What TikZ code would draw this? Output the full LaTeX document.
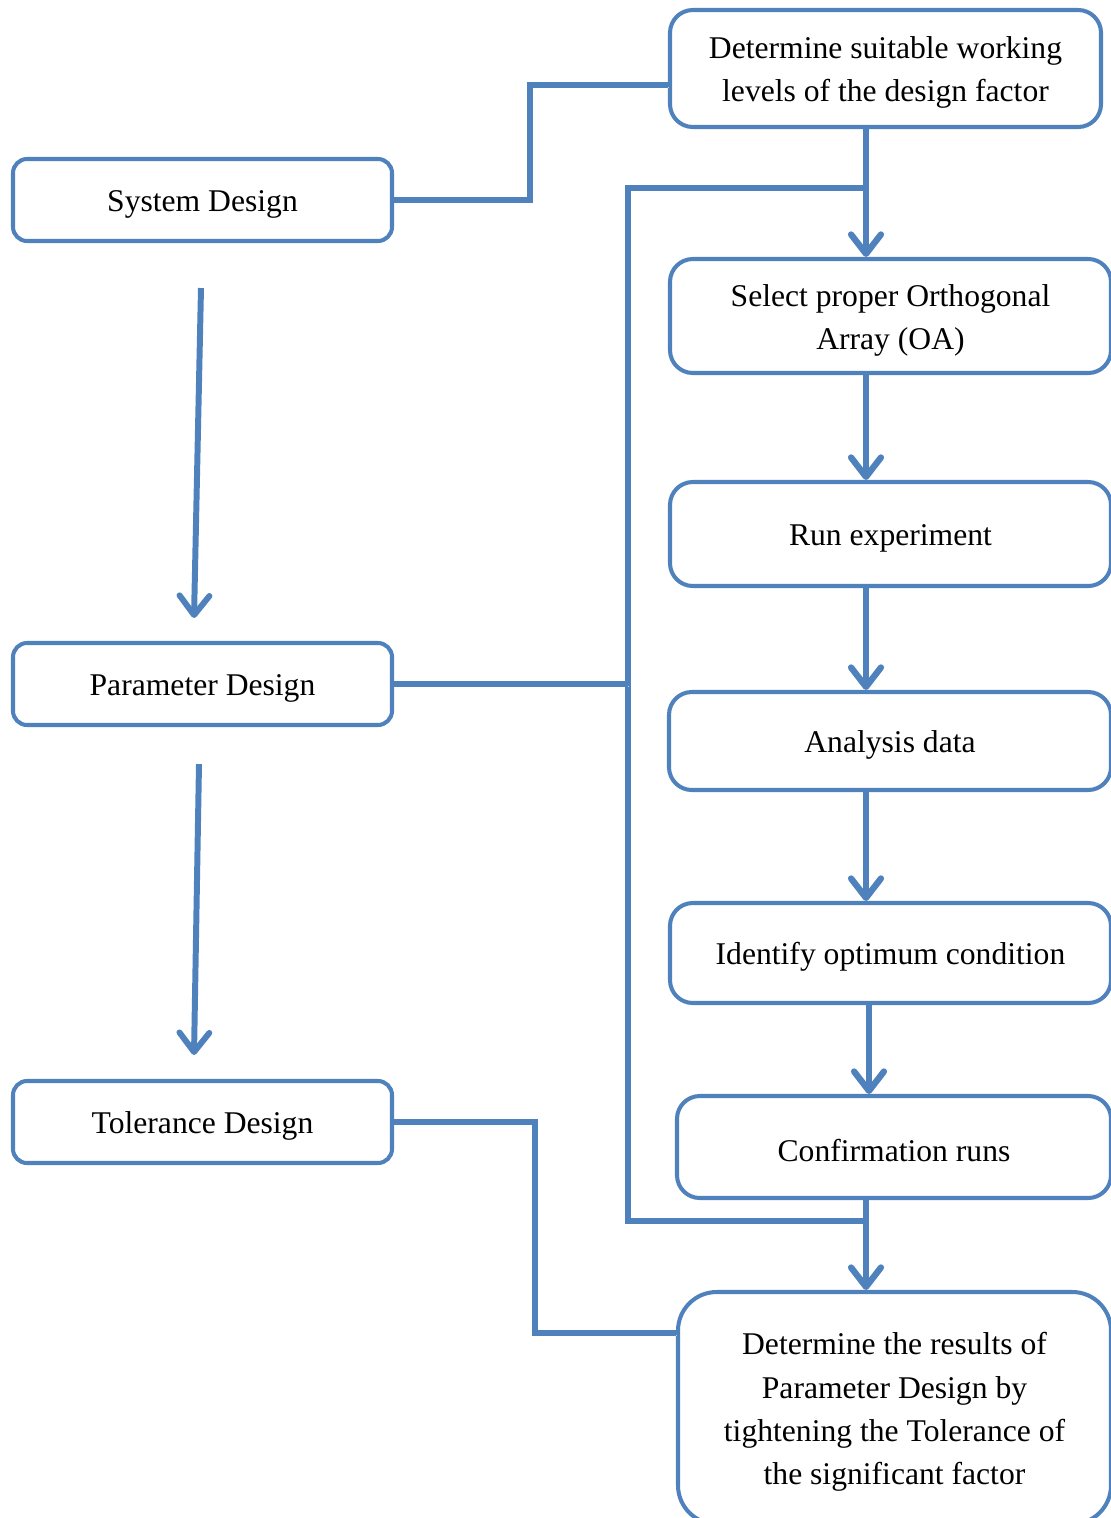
\documentclass[tikz,border=0pt]{standalone}
\usepackage{fontspec}
\setmainfont{Liberation Serif}
\usetikzlibrary{positioning}
\usetikzlibrary{calc}
\usetikzlibrary{arrows.meta}
\definecolor{officeblue}{RGB}{79, 129, 189}
\newcommand{\liftline}{\rule{0pt}{17pt}}

\begin{document}
\begin{tikzpicture}[
    x=0.02cm, y=-0.02cm,
    % node styles
    box/.style = {
      draw=officeblue,
      line width=2.3pt,
      fill=white,
      rounded corners=8pt,
      align=center,
      inner sep=0pt,
      font=\fontsize{18}{24.5}\selectfont,
      text=black
    },
    sidebox/.style = {box, minimum width=379*0.02cm, minimum height=82*0.02cm},
    % arrow styles
    shade/.style = {preaction={draw=black!18, transform canvas={xshift=0.6pt, yshift=-1.2pt}}},
    link/.style = {line width=3.6pt, draw=officeblue, shade},
    arr/.style = {-{Straight Barb[length=11pt, width=17pt, round]}, line width=3.6pt, draw=officeblue},
    sidearr/.style = {-{Straight Barb[length=11pt, width=17pt, round]}, line width=3.4pt, draw=officeblue}
  ]

  \clip (0,0) rectangle (1111,1518);

  % --- Nodes
  \node[sidebox] (sys) at (202.5,200) {\liftline System Design};
  \node[sidebox] (par) at (202.5,684) {\liftline Parameter Design};
  \node[sidebox] (tol) at (202.5,1122) {\liftline Tolerance Design};

  \node[box, rounded corners=13pt, minimum width=431*0.02cm, minimum height=117*0.02cm] (det) at (885.5,68.5)
    {\liftline Determine suitable working\\levels of the design factor};
  \node[box, rounded corners=13pt, minimum width=441*0.02cm, minimum height=114*0.02cm] (sel) at (890.5,316)
    {\liftline Select proper Orthogonal\\Array (OA)};
  \node[box, rounded corners=13pt, minimum width=441*0.02cm, minimum height=104*0.02cm] (run) at (890.5,534)
    {\liftline Run experiment};
  \node[box, rounded corners=13pt, minimum width=442*0.02cm, minimum height=98*0.02cm] (ana) at (890,741)
    {\liftline Analysis data};
  \node[box, rounded corners=13pt, minimum width=441*0.02cm, minimum height=100*0.02cm] (opt) at (890.5,953)
    {\liftline Identify optimum condition};
  \node[box, rounded corners=13pt, minimum width=434*0.02cm, minimum height=102*0.02cm] (conf) at (894,1147)
    {\liftline Confirmation runs};
  \node[box, rounded corners=22pt, minimum width=433*0.02cm, minimum height=232*0.02cm] (res) at (894.5,1408)
    {\liftline Determine the results of\\Parameter Design by\\tightening the Tolerance of\\the significant factor};

  % --- helper points
  \coordinate (trunk) at (866,0);
  \coordinate (loopx) at (628,0);
  \coordinate (looptop) at (866,188);
  \coordinate (loopbot) at (866,1221);
  \coordinate (k1) at (530,85);
  \coordinate (k2) at (535,1333);

  % --- Arrows
  \draw[link] (sys.east) -| (k1) -- (k1 -| det.west);
  \draw[link] (looptop) -- (looptop -| loopx) -- (loopbot -| loopx) -- (loopbot);
  \draw[link] (par.east) -- (par.east -| loopx);
  \draw[link] (tol.east) -| (k2) -- (k2 -| res.west);

  \draw[arr] (det.south -| trunk) -- (sel.north -| trunk);
  \draw[arr] (sel.south -| trunk) -- (run.north -| trunk);
  \draw[arr] (run.south -| trunk) -- (ana.north -| trunk);
  \draw[arr] (ana.south -| trunk) -- (opt.north -| trunk);
  \draw[arr] ($(opt.south -| trunk)+(3,0)$) -- ($(conf.north -| trunk)+(3,0)$);
  \draw[arr] (conf.south -| trunk) -- (res.north -| trunk);

  \draw[sidearr] ($(sys.south)+(-1.5,45)$) -- ($(par.north)+(-8.5,-23)$);
  \draw[sidearr] ($(par.south)+(-3.5,37)$) -- ($(tol.north)+(-8.5,-24)$);

\end{tikzpicture}
\end{document}
